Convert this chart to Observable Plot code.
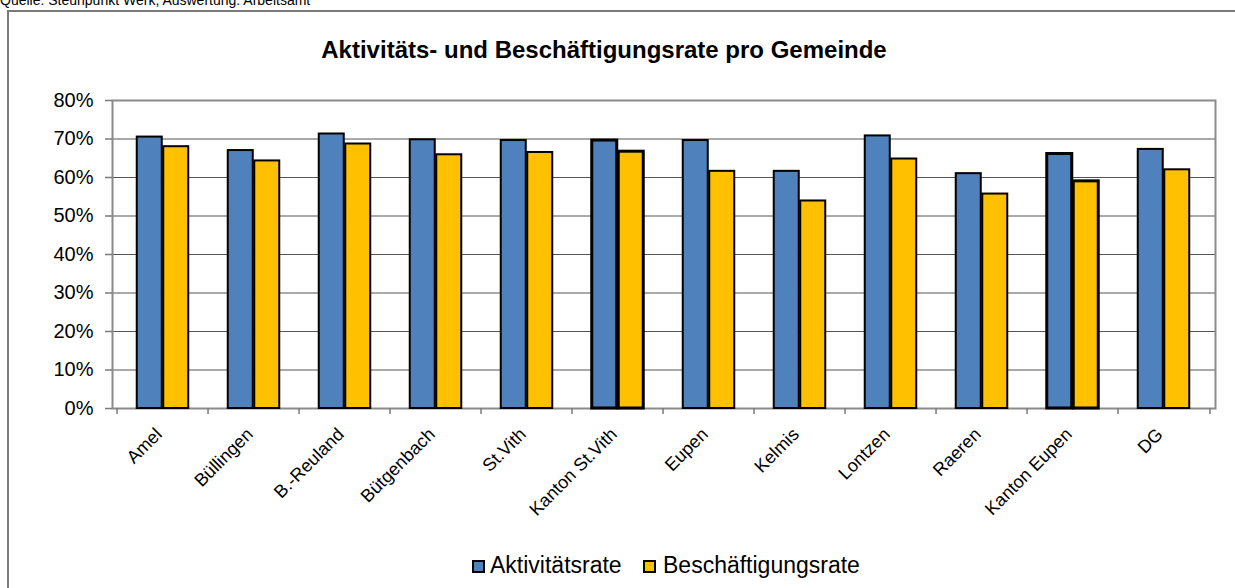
<!DOCTYPE html>
<html>
<head>
<meta charset="utf-8">
<script src="https://cdn.jsdelivr.net/npm/d3@7"></script>
<script src="https://cdn.jsdelivr.net/npm/@observablehq/plot@0.6"></script>
<style>
  html, body { margin: 0; padding: 0; background: #fff; }
  body { font-family: "Liberation Sans", Arial, sans-serif; color: #000; }
  #wrap { position: relative; width: 1235px; height: 588px; overflow: hidden; }
  #box { position: absolute; left: 7px; top: 10px; width: 1260px; height: 620px; border: 2px solid #7a7a7a; box-sizing: border-box; }
  #caption { position: absolute; left: 0; top: -7px; font-size: 14px; line-height: 1; white-space: nowrap; }
  #title { position: absolute; left: 0; width: 1208px; top: 38px; text-align: center; font-size: 24px; font-weight: bold; line-height: 1; white-space: nowrap; }
  #chart { position: absolute; left: 0; top: 0; }
  .sw { position: absolute; width: 13px; height: 13px; box-sizing: border-box; border: 2px solid #000; }
  .lt { position: absolute; font-size: 23px; line-height: 1; white-space: nowrap; }
</style>
</head>
<body>
<div id="wrap">
  <div id="box"></div>
  <div id="caption">Quelle: Steunpunkt Werk, Auswertung: Arbeitsamt</div>
  <div id="chart"></div>
  <div id="title">Aktivitäts- und Beschäftigungsrate pro Gemeinde</div>
  <div id="legend"></div>
</div>
<script>
const categories = ["Amel", "Büllingen", "B.-Reuland", "Bütgenbach", "St.Vith", "Kanton St.Vith", "Eupen", "Kelmis", "Lontzen", "Raeren", "Kanton Eupen", "DG"];
const aktivitaetsrate = [70.5, 67.0, 71.3, 69.8, 69.6, 69.6, 69.6, 61.6, 70.8, 61.0, 66.1, 67.3];
const beschaeftigungsrate = [68.0, 64.3, 68.7, 65.9, 66.5, 66.7, 61.6, 53.9, 64.8, 55.7, 59.0, 62.0];
const seriesNames = ["Aktivitätsrate", "Beschäftigungsrate"];
const seriesColors = ["#4F81BD", "#FFC000"];
const yTicks = [0, 10, 20, 30, 40, 50, 60, 70, 80];

const W = 1235, H = 588, ML = 112, MR = 20, MT = 100, MB = 180;
const step = (W - ML - MR) / categories.length;
const barOffset = 13.25;

const rows = categories.map((c, i) => ({ cat: c, akt: aktivitaetsrate[i], besch: beschaeftigungsrate[i] }));
const sw = d => d.cat.startsWith("Kanton") ? 3 : 2;

const chart = Plot.plot({
  width: W, height: H,
  marginLeft: ML, marginRight: MR, marginTop: MT, marginBottom: MB,
  style: { background: "transparent", fontFamily: "'Liberation Sans', Arial, sans-serif", color: "#000", overflow: "visible" },
  x: { type: "band", domain: categories, paddingInner: 0.723, paddingOuter: 0.3615, axis: null },
  y: { domain: [0, 80], axis: null },
  marks: [
    Plot.ruleY(yTicks.filter(t => t > 0 && t < 80), { y: d => d, stroke: "#555", strokeWidth: 1 }),
    Plot.frame({ stroke: "#8a8a8a", strokeWidth: 2 }),
    Plot.barY(rows, { x: "cat", y: "akt", fill: seriesColors[0], stroke: "#000", strokeWidth: sw, dx: -barOffset }),
    Plot.barY(rows, { x: "cat", y: "besch", fill: seriesColors[1], stroke: "#000", strokeWidth: sw, dx: barOffset }),
    Plot.ruleY(yTicks, { y: d => d, stroke: "#7a7a7a", strokeWidth: 1.5, insetLeft: -7, insetRight: W - ML - MR }),
    Plot.ruleX(categories, { x: d => d, y1: 0, y2: 0, insetBottom: -6, dx: -step / 2, stroke: "#7a7a7a", strokeWidth: 1.5 }),
    Plot.ruleX(categories.slice(-1), { x: d => d, y1: 0, y2: 0, insetBottom: -6, dx: step / 2, stroke: "#7a7a7a", strokeWidth: 1.5 }),
    Plot.text(yTicks, { y: d => d, frameAnchor: "left", text: d => d + "%", textAnchor: "end", dx: -19, fontSize: 20, fill: "#000" }),
    Plot.text(categories, { x: d => d, frameAnchor: "bottom", text: d => d, rotate: -45, textAnchor: "end", dx: 0, dy: 27, fontSize: 18, fill: "#000" })
  ]
});
document.getElementById("chart").appendChild(chart);

// legend
const legend = document.getElementById("legend");
const swX = [472, 643], txtX = [490, 663];
seriesNames.forEach((name, i) => {
  const s = document.createElement("div");
  s.className = "sw";
  s.style.left = swX[i] + "px";
  s.style.top = "560px";
  s.style.background = seriesColors[i];
  legend.appendChild(s);
  const t = document.createElement("div");
  t.className = "lt";
  t.style.left = txtX[i] + "px";
  t.style.top = "554px";
  t.textContent = name;
  legend.appendChild(t);
});
</script>
</body>
</html>
